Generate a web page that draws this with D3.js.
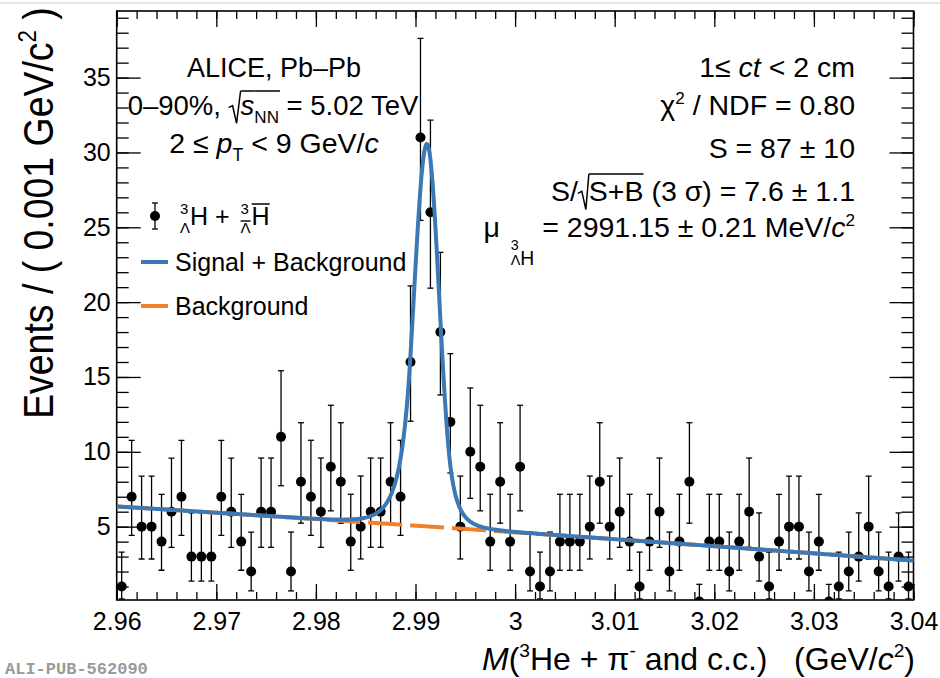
<!DOCTYPE html>
<html>
<head>
<meta charset="utf-8">
<script src="https://cdn.jsdelivr.net/npm/d3@7"></script>
<style>
  html, body { margin: 0; padding: 0; background: #fff; }
  svg text { font-family: "Liberation Sans", Arial, Helvetica, sans-serif; white-space: pre; fill: #000; }
</style>
</head>
<body>
<svg id="chart" width="940" height="678"></svg>
<script>
// Invariant-mass histogram: counts per 1 MeV bin from 2.96 to 3.04 GeV/c^2
const binStart = 2.96;
const binWidth = 0.001;
const counts = [
  1, 7, 5, 5, 4, 6, 7, 3, 3, 3,
  7, 6, 4, 2, 6, 6, 11, 2, 8, 7,
  6, 9, 8, 4, 5, 6, 6, 8, 7, 16,
  31, 26, 18, 12, 5, 10, 9, 4, 8, 4,
  9, 2, 1, 2, 4, 4, 4, 5, 8, 5,
  6, 4, 1, 4, 6, 2, 4, 8, 0, 4,
  4, 2, 4, 6, 3, 1, 4, 5, 5, 2,
  4, 0, 1, 2, 3, 5, 2, 1, 3, 1
];

// Asymmetric Poisson (68.3% central) errors, keyed by bin count
const poissonLo = {0: 0, 1: 0.827, 2: 1.292, 3: 1.633, 4: 1.914, 5: 2.160, 6: 2.380, 7: 2.581,
  8: 2.768, 9: 2.943, 10: 3.108, 11: 3.266, 12: 3.415, 16: 3.957, 18: 4.202, 26: 5.066, 31: 5.537};
const poissonHi = {0: 1.148, 1: 2.300, 2: 2.638, 3: 2.918, 4: 3.163, 5: 3.382, 6: 3.584, 7: 3.770,
  8: 3.945, 9: 4.110, 10: 4.267, 11: 4.416, 12: 4.559, 16: 5.083, 18: 5.321, 26: 6.164, 31: 6.627};

// Fit model: double-sided Crystal Ball signal + 2nd-order polynomial background
const fitMu = 2.99115;
const fitAmp = 25.56;
const fitSigma = [0.00130, 0.00122];   // left, right
const fitAlpha = [1.3, 1.7];
const fitN = [8, 5];
const bkgPoly = [4.62, -45.25, -50.0];  // around m = 3.0 GeV/c^2

// Axis ticks
const xMajor = [2.96, 2.97, 2.98, 2.99, 3.00, 3.01, 3.02, 3.03, 3.04];
const xTickLabels = ["2.96", "2.97", "2.98", "2.99", "3", "3.01", "3.02", "3.03", "3.04"];
const yMajor = [5, 10, 15, 20, 25, 30, 35];
const yTickLabels = ["5", "10", "15", "20", "25", "30", "35"];

const svg = d3.select("#chart");
const frame = {left: 116.7, right: 913.5, top: 11, bottom: 600};

const x = d3.scaleLinear().domain([2.96, 3.04]).range([frame.left, frame.right]);
const y = d3.scaleLinear().domain([0.1, 39.45]).range([frame.bottom, frame.top]);

svg.append("rect").attr("width", 940).attr("height", 678).attr("fill", "#fff");
svg.append("line").attr("x1", 0).attr("x2", 940).attr("y1", 3).attr("y2", 3)
  .attr("stroke", "#dcdcdc").attr("stroke-width", 1.5);

svg.append("clipPath").attr("id", "plotClip").append("rect")
  .attr("x", frame.left).attr("y", frame.top)
  .attr("width", frame.right - frame.left).attr("height", frame.bottom - frame.top);

// ---- axes (ticks point inwards, mirrored on top/right)
function styleAxis(g) {
  g.select(".domain").remove();
  g.selectAll(".tick line").attr("stroke", "#000").attr("stroke-width", 1.3);
  g.selectAll(".tick text").attr("font-size", 25).attr("fill", "#000")
    .attr("font-family", "Liberation Sans, Arial, sans-serif");
}
const xMinor = d3.range(0, 41).map(i => 2.96 + i * 0.002);
const yMinor = d3.range(1, 40);

svg.append("g").attr("transform", `translate(0,${frame.bottom})`)
  .call(d3.axisBottom(x).tickValues(xMinor).tickSize(-8).tickFormat("")).call(styleAxis);
svg.append("g").attr("transform", `translate(0,${frame.bottom})`)
  .call(d3.axisBottom(x).tickValues(xMajor).tickSize(-16).tickPadding(12)
    .tickFormat((d, i) => xTickLabels[i])).call(styleAxis);
svg.append("g").attr("transform", `translate(0,${frame.top})`)
  .call(d3.axisTop(x).tickValues(xMinor).tickSize(-8).tickFormat("")).call(styleAxis);
svg.append("g").attr("transform", `translate(0,${frame.top})`)
  .call(d3.axisTop(x).tickValues(xMajor).tickSize(-16).tickFormat("")).call(styleAxis);

svg.append("g").attr("transform", `translate(${frame.left},0)`)
  .call(d3.axisLeft(y).tickValues(yMinor).tickSize(-12).tickFormat("")).call(styleAxis);
svg.append("g").attr("transform", `translate(${frame.left},0)`)
  .call(d3.axisLeft(y).tickValues(yMajor).tickSize(-24).tickPadding(6)
    .tickFormat((d, i) => yTickLabels[i])).call(styleAxis);
svg.append("g").attr("transform", `translate(${frame.right},0)`)
  .call(d3.axisRight(y).tickValues(yMinor).tickSize(-12).tickFormat("")).call(styleAxis);
svg.append("g").attr("transform", `translate(${frame.right},0)`)
  .call(d3.axisRight(y).tickValues(yMajor).tickSize(-24).tickFormat("")).call(styleAxis);

svg.append("rect").attr("x", frame.left).attr("y", frame.top)
  .attr("width", frame.right - frame.left).attr("height", frame.bottom - frame.top)
  .attr("fill", "none").attr("stroke", "#000").attr("stroke-width", 1.6);

// ---- data points with asymmetric error bars
const bins = counts.map((c, i) => ({m: binStart + (i + 0.5) * binWidth, c}));
const plot = svg.append("g").attr("clip-path", "url(#plotClip)");
const pts = plot.append("g").selectAll("g").data(bins).join("g");
pts.append("line")
  .attr("x1", d => x(d.m)).attr("x2", d => x(d.m))
  .attr("y1", d => y(d.c - poissonLo[d.c])).attr("y2", d => y(d.c + poissonHi[d.c]))
  .attr("stroke", "#000").attr("stroke-width", 1.3);
pts.append("line")
  .attr("x1", d => x(d.m) - 3).attr("x2", d => x(d.m) + 3)
  .attr("y1", d => y(d.c + poissonHi[d.c])).attr("y2", d => y(d.c + poissonHi[d.c]))
  .attr("stroke", "#000").attr("stroke-width", 1.3);
pts.append("line")
  .attr("x1", d => x(d.m) - 3).attr("x2", d => x(d.m) + 3)
  .attr("y1", d => y(d.c - poissonLo[d.c])).attr("y2", d => y(d.c - poissonLo[d.c]))
  .attr("stroke", "#000").attr("stroke-width", 1.3);
pts.append("circle")
  .attr("cx", d => x(d.m)).attr("cy", d => y(d.c)).attr("r", 5).attr("fill", "#000");

// ---- fit curves
function background(m) {
  const d = m - 3.0;
  return bkgPoly[0] + bkgPoly[1] * d + bkgPoly[2] * d * d;
}
function crystalBall(m) {
  const side = m < fitMu ? 0 : 1;
  const t = Math.abs(m - fitMu) / fitSigma[side];
  const a = fitAlpha[side], n = fitN[side];
  if (t > a) return Math.exp(-a * a / 2) * Math.pow(1 + a * (t - a) / n, -n);
  return Math.exp(-t * t / 2);
}
const mGrid = d3.range(0, 801).map(i => 2.96 + i * 0.0001);
const bkgLine = d3.line().x(m => x(m)).y(m => y(background(m)));
const totLine = d3.line().x(m => x(m)).y(m => y(background(m) + fitAmp * crystalBall(m)));

plot.append("path").attr("d", bkgLine(mGrid)).attr("fill", "none")
  .attr("stroke", "#f0812a").attr("stroke-width", 4).attr("stroke-dasharray", "34,8");
plot.append("path").attr("d", totLine(mGrid)).attr("fill", "none")
  .attr("stroke", "#3b78b5").attr("stroke-width", 4).attr("stroke-linejoin", "round");

// ---- rich text helper: runs of text laid out left to right
function rich(parent, parts, px, py, size, anchor) {
  const g = parent.append("g");
  let cx = 0;
  for (const p of parts) {
    if (p.rad) {
      // radical sign drawn as a path, joined to the overline of the following runs
      const w = p.rad;
      g.append("path")
        .attr("d", `M${cx},${-0.27 * size} L${cx + 4},${-0.34 * size} L${cx + 8},${0.3 * size} L${cx + w},${p.top}`)
        .attr("fill", "none").attr("stroke", "#000").attr("stroke-width", 1.5);
      cx += w;
      continue;
    }
    if (p.stack) {
      let wmax = 0;
      const x0 = cx + (p.pre || 0);
      for (const it of p.stack) {
        const t = g.append("text").attr("x", x0).attr("y", it.dy)
          .attr("font-size", size * it.s).text(it.t);
        const tw = t.node().getComputedTextLength();
        wmax = Math.max(wmax, tw);
        if (it.bar !== undefined) {
          g.append("line").attr("x1", x0).attr("x2", x0 + tw).attr("y1", it.bar).attr("y2", it.bar)
            .attr("stroke", "#000").attr("stroke-width", 1.4);
        }
      }
      cx = x0 + wmax + (p.post || 0);
      continue;
    }
    const t = g.append("text").attr("x", cx).attr("y", p.dy || 0)
      .attr("font-size", size * (p.s || 1))
      .attr("font-style", p.i ? "italic" : null)
      .text(p.t);
    const w = t.node().getComputedTextLength();
    if (p.over !== undefined) {
      g.append("line").attr("x1", cx).attr("x2", cx + w + (p.overExt || 0))
        .attr("y1", p.over).attr("y2", p.over).attr("stroke", "#000").attr("stroke-width", 1.5);
    }
    cx += w;
  }
  const shift = anchor === "middle" ? -cx / 2 : anchor === "end" ? -cx : 0;
  g.attr("transform", `translate(${px + shift},${py})`);
  return g;
}

// ---- axis titles
const yTitle = svg.append("g").attr("transform", "translate(53,213) rotate(-90) scale(0.87,1)");
rich(yTitle, [
  {t: "Events / ( 0.001 GeV/c"}, {t: "2", s: 0.6, dy: -17}, {t: " )"}
], 0, 0, 43, "middle");

rich(svg, [
  {t: "M", i: true}, {t: "("}, {t: "3", s: 0.6, dy: -13}, {t: "He + \u03c0"},
  {t: "-", s: 0.6, dy: -13}, {t: " and c.c.)   (GeV/"}, {t: "c", i: true},
  {t: "2", s: 0.6, dy: -13}, {t: ")"}
], 915, 670, 32, "end");

// ---- left information block
rich(svg, [{t: "ALICE, Pb\u2013Pb"}], 274, 77, 27, "middle");
rich(svg, [
  {t: "0\u201390%, "}, {rad: 12, top: -24},
  {t: "s", i: true, over: -24}, {t: "NN", s: 0.62, dy: 8, over: -24, overExt: 1},
  {t: " = 5.02 TeV"}
], 273, 115, 27.5, "middle");
rich(svg, [
  {t: "2 \u2264 "}, {t: "p", i: true}, {t: "T", s: 0.62, dy: 8}, {t: " < 9 GeV/"}, {t: "c", i: true}
], 274, 153, 28.5, "middle");

// ---- legend
const leg = svg.append("g");
leg.append("line").attr("x1", 155).attr("x2", 155).attr("y1", 203).attr("y2", 229)
  .attr("stroke", "#000").attr("stroke-width", 1.3);
leg.append("line").attr("x1", 152).attr("x2", 158).attr("y1", 203).attr("y2", 203)
  .attr("stroke", "#000").attr("stroke-width", 1.3);
leg.append("line").attr("x1", 152).attr("x2", 158).attr("y1", 229).attr("y2", 229)
  .attr("stroke", "#000").attr("stroke-width", 1.3);
leg.append("circle").attr("cx", 155).attr("cy", 216).attr("r", 5).attr("fill", "#000");
rich(leg, [
  {stack: [{t: "3", s: 0.6, dy: -11}, {t: "\u039b", s: 0.6, dy: 8}]},
  {t: "H + "},
  {stack: [{t: "3", s: 0.6, dy: -11}, {t: "\u039b", s: 0.6, dy: 8, bar: -4}], pre: 4, post: 1},
  {t: "H", over: -21}
], 180, 225, 25, "start");

leg.append("line").attr("x1", 141).attr("x2", 168).attr("y1", 262).attr("y2", 262)
  .attr("stroke", "#3b78b5").attr("stroke-width", 4);
rich(leg, [{t: "Signal + Background"}], 175, 271, 25, "start");
leg.append("line").attr("x1", 141).attr("x2", 168).attr("y1", 306).attr("y2", 306)
  .attr("stroke", "#f0812a").attr("stroke-width", 4);
rich(leg, [{t: "Background"}], 175, 315, 25, "start");

// ---- right information block (fit results)
const rx = 855;
const fs = 28.5;
rich(svg, [{t: "1\u2264 "}, {t: "ct", i: true}, {t: " < 2 cm"}], rx, 77, fs, "end");
rich(svg, [{t: "\u03c7"}, {t: "2", s: 0.6, dy: -11}, {t: " / NDF = 0.80"}], rx, 115, fs, "end");
rich(svg, [{t: "S = 87 \u00b1 10"}], rx, 158, fs, "end");
rich(svg, [
  {t: "S/"}, {rad: 11, top: -27}, {t: "S+B", over: -27}, {t: " (3 \u03c3) = 7.6 \u00b1 1.1"}
], rx, 201, fs, "end");
rich(svg, [
  {t: "\u03bc"},
  {stack: [{t: "3", s: 0.5, dy: 13}, {t: "\u039b", s: 0.5, dy: 28}], pre: 11},
  {t: "H", s: 0.68, dy: 28},
  {t: " = 2991.15 \u00b1 0.21 MeV/"}, {t: "c", i: true}, {t: "2", s: 0.6, dy: -11}
], rx, 237, fs, "end");

// ---- publication tag
svg.append("text").attr("x", 5).attr("y", 674)
  .style("font-family", "'Liberation Mono', 'DejaVu Sans Mono', monospace")
  .attr("font-size", 17).attr("font-weight", "bold").style("fill", "#9a9a9a")
  .text("ALI-PUB-562090");
</script>
</body>
</html>
